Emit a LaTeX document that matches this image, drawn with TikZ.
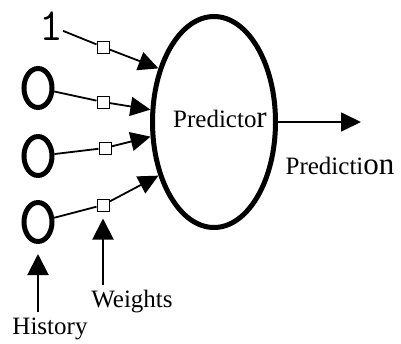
\documentclass[tikz,border=0pt]{standalone}
\usepackage{fontspec}
\setmainfont{Liberation Serif}
\usetikzlibrary{arrows.meta,shapes.geometric}

\begin{document}
\begin{tikzpicture}[x=1pt, y=-1pt,
  font=\fontsize{25}{29}\selectfont,
  hist/.style={draw, ellipse, line width=5pt, minimum width=28pt, minimum height=39pt, inner sep=0pt},
  wt/.style={draw, rectangle, line width=1pt, fill=white, minimum size=12pt, inner sep=0pt},
  ar/.style={-{Triangle[length=20pt, width=19pt]}, line width=1.8pt},
  up/.style={-{Triangle[length=21pt, width=21pt]}, line width=2pt}]
\useasboundingbox (0,0) rectangle (401,343);
% predictor
\node[draw, ellipse, line width=5pt, minimum width=123pt, minimum height=211pt, inner sep=0pt] (pred) at (214,122) {};
\node (predlbl) at (220,119) {Predicto{\fontsize{31}{34}\selectfont r}};
% inputs
\node[font=\ttfamily\fontsize{46}{46}\selectfont, inner sep=0pt] (one) at (51,26) {1};
\node[hist] (h1) at (38,88) {};
\node[hist] (h2) at (38,156) {};
\node[hist] (h3) at (38,222) {};
% weights
\node[wt] (w1) at (103,47) {};
\node[wt] (w2) at (103,102) {};
\node[wt] (w3) at (105,148) {};
\node[wt] (w4) at (103,205) {};
\draw[line width=1.8pt] (one) -- (w1);
\draw[line width=1.8pt] (h1) -- (w2);
\draw[line width=1.8pt] (h2) -- (w3);
\draw[line width=1.8pt] (h3) -- (w4);
\draw[ar] (w1) -- (pred.136);
\draw[ar] (w2) -- (pred.169);
\draw[ar] (w3) -- (pred.193);
\draw[ar] (w4) -- (pred.224);
% output
\coordinate (out) at (361,122);
\draw[ar] (pred.east) -- (out);
\node (predn) at (340,166) {Predicti{\fontsize{31}{34}\selectfont on}};
% labels
\node (wlbl) at (132,302) {Weights};
\node (hlbl) at (50,329) {History};
\draw[up, shorten <=2pt, shorten >=7pt] (wlbl.north -| w4) -- (w4);
\draw[up, shorten <=2pt, shorten >=10pt] (hlbl.north -| h3) -- (h3);
\end{tikzpicture}
\end{document}
